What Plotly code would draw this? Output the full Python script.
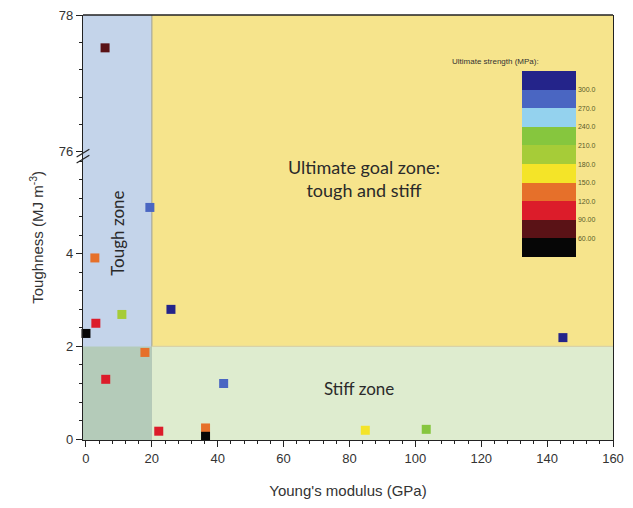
import plotly.graph_objects as go

# ---- data ----
modulus = [5.8, 19.4, 2.7, 10.9, 3.0, 0.0, 25.8, 17.9, 6.0, 41.8, 22.1, 36.3, 36.3, 84.8, 103.3, 144.8]
toughness = [77.52, 5.0, 3.91, 2.69, 2.5, 2.28, 2.8, 1.87, 1.29, 1.2, 0.17, 0.24, 0.06, 0.19, 0.21, 2.19]
strength = [75, 285, 135, 195, 105, 45, 315, 135, 105, 285, 105, 135, 45, 165, 225, 315]

band_edges = [30, 60, 90, 120, 150, 180, 210, 240, 270, 300, 330]
band_colors = ["#060606", "#5a1216", "#dc1c2a", "#e6702a", "#f4e428",
               "#a6cc38", "#86c63e", "#94d2ee", "#4a66c2", "#24248a"]
tick_vals = [60, 90, 120, 150, 180, 210, 240, 270, 300]
tick_text = ["60.00", "90.00", "120.0", "150.0", "180.0", "210.0", "240.0", "270.0", "300.0"]

x_thresh = 20      # tough zone boundary (GPa)
y_thresh = 2       # stiff zone boundary (MJ m-3)
x_range = [-0.9, 160]
y_low_range = [-0.02, 6.2]
y_high_range = [76, 78]

# split points between lower and upper (broken) axis
lo_x = [m for m, t in zip(modulus, toughness) if t < 70]
lo_y = [t for t in toughness if t < 70]
lo_c = [s for s, t in zip(strength, toughness) if t < 70]
hi_x = [m for m, t in zip(modulus, toughness) if t >= 70]
hi_y = [t for t in toughness if t >= 70]
hi_c = [s for s, t in zip(strength, toughness) if t >= 70]

n = len(band_colors)
cscale = []
for i, c in enumerate(band_colors):
    cscale.append([i / n, c])
    cscale.append([(i + 1) / n, c])

fig = go.Figure()
fig.add_trace(go.Scatter(x=lo_x, y=lo_y, mode="markers", xaxis="x", yaxis="y",
                         marker=dict(symbol="square", size=9, color=lo_c, coloraxis="coloraxis"),
                         cliponaxis=False, showlegend=False))
fig.add_trace(go.Scatter(x=hi_x, y=hi_y, mode="markers", xaxis="x", yaxis="y2",
                         marker=dict(symbol="square", size=9, color=hi_c, coloraxis="coloraxis"),
                         cliponaxis=False, showlegend=False))

YELLOW = "#f6e48c"
BLUE = "#c4d4ea"
GREEN = "#deeccf"
CORNER = "#b4cbb9"
shapes = [
    # ultimate goal zone (whole right part above threshold)
    dict(type="rect", xref="x", yref="paper", x0=x_thresh, x1=x_range[1], y0=0.2, y1=1,
         fillcolor=YELLOW, line_width=0, layer="below"),
    # tough zone (full height)
    dict(type="rect", xref="x", yref="paper", x0=x_range[0], x1=x_thresh, y0=0, y1=1,
         fillcolor=BLUE, line_width=0, layer="below"),
    # stiff zone
    dict(type="rect", xref="x", yref="y", x0=x_thresh, x1=x_range[1], y0=y_low_range[0], y1=y_thresh,
         fillcolor=GREEN, line_width=0, layer="below"),
    # overlap corner
    dict(type="rect", xref="x", yref="y", x0=x_range[0], x1=x_thresh, y0=y_low_range[0], y1=y_thresh,
         fillcolor=CORNER, line_width=0, layer="below"),
    # zone boundaries
    dict(type="line", xref="x", yref="paper", x0=x_thresh, x1=x_thresh, y0=0, y1=1,
         line=dict(color="#a8a898", width=1.2), layer="below"),
    dict(type="line", xref="x", yref="y", x0=x_thresh, x1=x_range[1], y0=y_thresh, y1=y_thresh,
         line=dict(color="#d8d2a8", width=1.2), layer="below"),
    # top frame line
    dict(type="line", xref="paper", yref="paper", x0=0, x1=1, y0=1, y1=1,
         line=dict(color="#222", width=1.5), layer="above"),
    # axis break marks
    dict(type="line", xref="paper", yref="paper", x0=-0.012, x1=0.012, y0=0.666, y1=0.684,
         line=dict(color="#222", width=1.2)),
    dict(type="line", xref="paper", yref="paper", x0=-0.012, x1=0.012, y0=0.652, y1=0.670,
         line=dict(color="#222", width=1.2)),
]

zone_font = dict(family="Lato, Open Sans, sans-serif", size=18, color="#2a2a2a")
annotations = [
    dict(x=84.5, y=5.63, xref="x", yref="y", text="Ultimate goal zone:<br>tough and stiff",
         showarrow=False, font=zone_font, align="center"),
    dict(x=9.7, y=4.45, xref="x", yref="y", text="Tough zone", textangle=-90,
         showarrow=False, font=dict(family="Lato, Open Sans, sans-serif", size=17, color="#2a2a2a")),
    dict(x=83, y=1.1, xref="x", yref="y", text="Stiff zone",
         showarrow=False, font=dict(family="Lato, Open Sans, sans-serif", size=17, color="#2a2a2a")),
    dict(x=0.864, y=0.906, xref="paper", yref="paper", text="Ultimate strength (MPa):",
         showarrow=False, font=dict(family="Arial, Liberation Sans", size=8, color="#333")),
    dict(x=-0.087, y=0.478, xref="paper", yref="paper", text="Toughness (MJ m<sup>-3</sup>)",
         textangle=-90, showarrow=False, xanchor="center", yanchor="middle",
         font=dict(family="Arial, Liberation Sans", size=15, color="#333")),
]

tick_font = dict(family="Arial, Liberation Sans", size=13, color="#333")
fig.update_layout(
    template="none",
    width=625, height=500,
    margin=dict(l=75, r=20, t=7, b=68, autoexpand=False),
    paper_bgcolor="white", plot_bgcolor="white",
    shapes=shapes, annotations=annotations,
    coloraxis=dict(
        colorscale=cscale, cmin=band_edges[0], cmax=band_edges[-1],
        colorbar=dict(
            x=0.828, xanchor="left", y=0.649, yanchor="middle",
            thickness=54, thicknessmode="pixels", len=186, lenmode="pixels",
            xpad=0, ypad=0, outlinewidth=0, ticks="",
            tickvals=tick_vals, ticktext=tick_text,
            tickfont=dict(family="Arial, Liberation Sans", size=7, color="#5a5a28"),
            bgcolor="rgba(0,0,0,0)",
        ),
    ),
    xaxis=dict(range=x_range, anchor="y", showline=True, linecolor="#222", linewidth=1.3,
               mirror=False, ticks="outside", ticklen=6, tickcolor="#222", dtick=20, tick0=0,
               minor=dict(dtick=4, ticks="outside", ticklen=3, tickcolor="#222"),
               showgrid=False, zeroline=False, tickfont=tick_font, ticklabeloverflow="allow",
               automargin=False,
               title=dict(text="Young's modulus (GPa)", standoff=20,
                          font=dict(family="Arial, Liberation Sans", size=15, color="#333"))),
    yaxis=dict(range=y_low_range, domain=[0, 0.678], anchor="x", showline=True, linecolor="#222",
               linewidth=1.3, mirror=True, ticks="outside", ticklen=6, tickcolor="#222",
               tickvals=[0, 2, 4], ticklabeloverflow="allow", automargin=False,
               minor=dict(dtick=0.4, tick0=0, ticks="outside", ticklen=3, tickcolor="#222"),
               showgrid=False, zeroline=False, tickfont=tick_font),
    yaxis2=dict(range=y_high_range, domain=[0.678, 1], anchor="x", showline=True, linecolor="#222",
                linewidth=1.3, mirror=True, ticks="outside", ticklen=6, tickcolor="#222",
                tickvals=[76, 78], ticklabeloverflow="allow", automargin=False,
                minor=dict(dtick=0.4, tick0=76, ticks="outside", ticklen=3, tickcolor="#222"),
                showgrid=False, zeroline=False, tickfont=tick_font),
)

fig.write_html("out.html")
